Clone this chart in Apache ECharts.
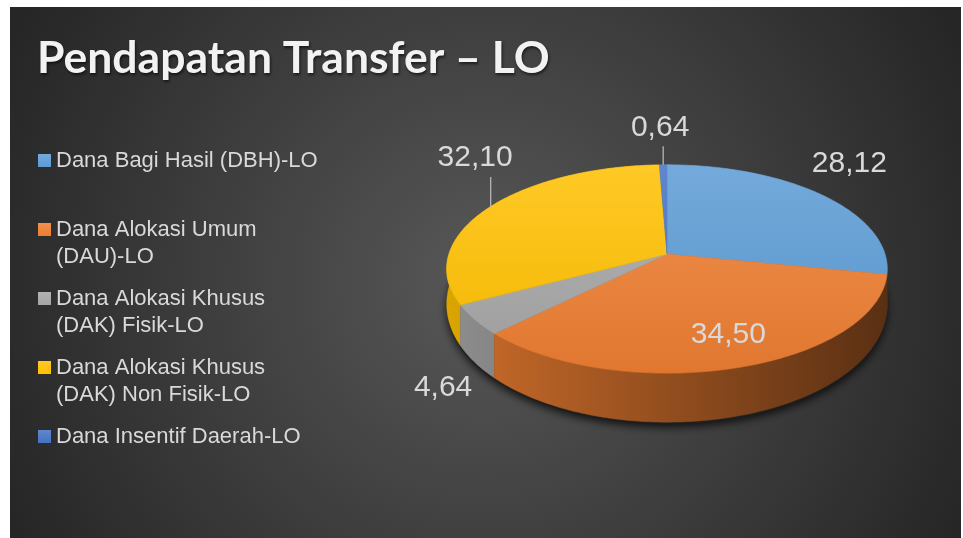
<!DOCTYPE html>
<html>
<head>
<meta charset="utf-8">
<script src="https://cdn.jsdelivr.net/npm/echarts@6/dist/echarts.min.js"></script>
<style>
  html, body { margin: 0; padding: 0; background: #fff; }
  #chart { width: 963px; height: 538px; }
</style>
</head>
<body>
<div id="chart"></div>
<script>
const categories = [
  'Dana Bagi Hasil (DBH)-LO',
  'Dana Alokasi Umum (DAU)-LO',
  'Dana Alokasi Khusus (DAK) Fisik-LO',
  'Dana Alokasi Khusus (DAK) Non Fisik-LO',
  'Dana Insentif Daerah-LO'
];
const legendLabels = [
  'Dana Bagi Hasil (DBH)-LO',
  'Dana Alokasi Umum\n(DAU)-LO',
  'Dana Alokasi Khusus\n(DAK) Fisik-LO',
  'Dana Alokasi Khusus\n(DAK) Non Fisik-LO',
  'Dana Insentif Daerah-LO'
];
const values = [28.12, 34.50, 4.64, 32.10, 0.64];
const colors = ['#5b9bd5', '#ed7d31', '#a5a5a5', '#ffc000', '#4472c4'];

// bentuk pai 3D: elips dengan sedikit perspektif
const PIE = { cx: 667, cy: 254, rx: 218, ry: 102, k: 0.144, wall: 33, wallFront: 16 };
// posisi label: [jari-jari relatif, geser sudut (derajat)]
const labelPlace = [[1.395, -7.2], [0.757, -2.8], [1.403, -15.8], [1.491, 17], [1.514, -0.3]];
const labelLine = [false, false, false, true, true];

const total = values.reduce((a, b) => a + b, 0);
const starts = [];
let acc = 0;
values.forEach(v => { starts.push(acc); acc += v; });

function proj(t, r) {
  const X = r * Math.sin(t), Z = -r * Math.cos(t);
  const w = 1 - PIE.k * Z;
  return [PIE.cx + PIE.rx * X / w, PIE.cy + PIE.ry * Z / w];
}
function projBottom(t) {
  const p = proj(t, 1);
  return [p[0], p[1] + PIE.wall + PIE.wallFront * (-Math.cos(t))];
}
function rgb(hex) {
  const n = parseInt(hex.slice(1), 16);
  return [(n >> 16) & 255, (n >> 8) & 255, n & 255];
}
function shade(hex, f) {
  return 'rgb(' + rgb(hex).map(c => Math.round(c * f)).join(',') + ')';
}
function tint(hex, f) {
  return 'rgb(' + rgb(hex).map(c => Math.round(c + (255 - c) * f)).join(',') + ')';
}
function fmt(v) {
  return v.toFixed(2).replace('.', ',');
}

function renderSlice(i) {
  return function (params, api) {
    const a0 = starts[i] / total * Math.PI * 2;
    const a1 = (starts[i] + values[i]) / total * Math.PI * 2;
    const mid = (a0 + a1) / 2;
    const n = Math.max(2, Math.ceil((a1 - a0) / (Math.PI / 180)));
    const top = [], bot = [];
    for (let j = 0; j <= n; j++) {
      const t = a0 + (a1 - a0) * j / n;
      top.push(proj(t, 1));
      bot.push(projBottom(t));
    }
    const yTop = PIE.cy - PIE.ry / (1 + PIE.k);
    const yBot = PIE.cy + PIE.ry / (1 - PIE.k);
    const topFill = new echarts.graphic.LinearGradient(0, yTop, 0, yBot, [
      { offset: 0, color: tint(colors[i], 0.15) },
      { offset: 1, color: shade(colors[i], 0.95) }
    ], true);
    const wallFill = new echarts.graphic.LinearGradient(PIE.cx - PIE.rx, 0, PIE.cx + PIE.rx, 0, [
      { offset: 0, color: shade(colors[i], 0.86) },
      { offset: 1, color: shade(colors[i], 0.38) }
    ], true);

    const children = [];
    if (i === 0) {
      // bayangan di bawah pai
      const ring = [];
      for (let j = 0; j < 360; j++) {
        const p = projBottom(j * Math.PI / 180);
        ring.push([p[0], p[1] + 2]);
      }
      children.push({
        type: 'polygon', z2: 10, shape: { points: ring },
        style: { fill: '#1e1e1e', shadowBlur: 8, shadowOffsetY: 3, shadowColor: 'rgba(0,0,0,0.75)' }
      });
    }
    children.push({
      type: 'polygon', z2: 50 + Math.round(-Math.cos(mid) * 20),
      shape: { points: top.concat(bot.slice().reverse()) },
      style: { fill: wallFill, stroke: wallFill, lineWidth: 0.5 }
    });
    children.push({
      type: 'polygon', z2: 100,
      shape: { points: [[PIE.cx, PIE.cy]].concat(top) },
      style: { fill: topFill, stroke: topFill, lineWidth: 0.6 }
    });

    const lp = proj(mid + labelPlace[i][1] * Math.PI / 180, labelPlace[i][0]);
    children.push({
      type: 'text', z2: 300,
      style: {
        text: fmt(values[i]), x: lp[0], y: lp[1], align: 'center', verticalAlign: 'middle',
        fill: '#d9d9d9', fontSize: 30, fontFamily: '"Liberation Sans", Arial, sans-serif'
      }
    });
    if (labelLine[i]) {
      const e = proj(mid, 1);
      children.push({
        type: 'line', z2: 250,
        shape: { x1: e[0], y1: e[1], x2: e[0], y2: lp[1] + 19 },
        style: { stroke: '#bfbfbf', lineWidth: 1.2 }
      });
    }
    return { type: 'group', children: children };
  };
}

// tiap label legenda dibuat 3 baris agar kotak penanda sejajar baris pertama
function legendText(name) {
  const lines = legendLabels[categories.indexOf(name)].split('\n');
  if (lines.length < 2) lines.push('');
  return [''].concat(lines).join('\n');
}

const chart = echarts.init(document.getElementById('chart'));

chart.setOption({
  backgroundColor: '#ffffff',
  animation: false,
  graphic: [{
    type: 'rect', z: -10, silent: true,
    shape: { x: 10, y: 7, width: 951, height: 531 },
    style: {
      fill: new echarts.graphic.RadialGradient(0.5, 0.52, 1.0, [
        { offset: 0, color: '#585858' },
        { offset: 1, color: '#262626' }
      ])
    }
  }],
  title: {
    text: 'Pendapatan Transfer – LO',
    left: 37, top: 36, padding: 0,
    textStyle: {
      color: '#f2f2f2', fontSize: 44.5, fontWeight: 'bold', fontFamily: 'Lato',
      textShadowColor: 'rgba(0,0,0,0.6)', textShadowBlur: 3, textShadowOffsetX: 1, textShadowOffsetY: 2
    }
  },
  legend: {
    orient: 'vertical', left: 38, top: 120, padding: 0,
    itemWidth: 13, itemHeight: 13, itemGap: -12, icon: 'rect',
    selectedMode: false,
    data: categories,
    formatter: legendText,
    textStyle: {
      color: '#d9d9d9', fontSize: 22, lineHeight: 27,
      fontFamily: '"Liberation Sans", Arial, sans-serif',
      backgroundColor: 'rgba(0,0,0,0)'
    }
  },
  series: categories.map((c, i) => ({
    type: 'custom',
    name: c,
    coordinateSystem: 'none',
    silent: true,
    itemStyle: {
      color: new echarts.graphic.LinearGradient(0, 0, 0, 1, [
        { offset: 0, color: tint(colors[i], 0.15) },
        { offset: 1, color: colors[i] }
      ])
    },
    renderItem: renderSlice(i),
    data: [values[i]]
  }))
});
</script>
</body>
</html>
